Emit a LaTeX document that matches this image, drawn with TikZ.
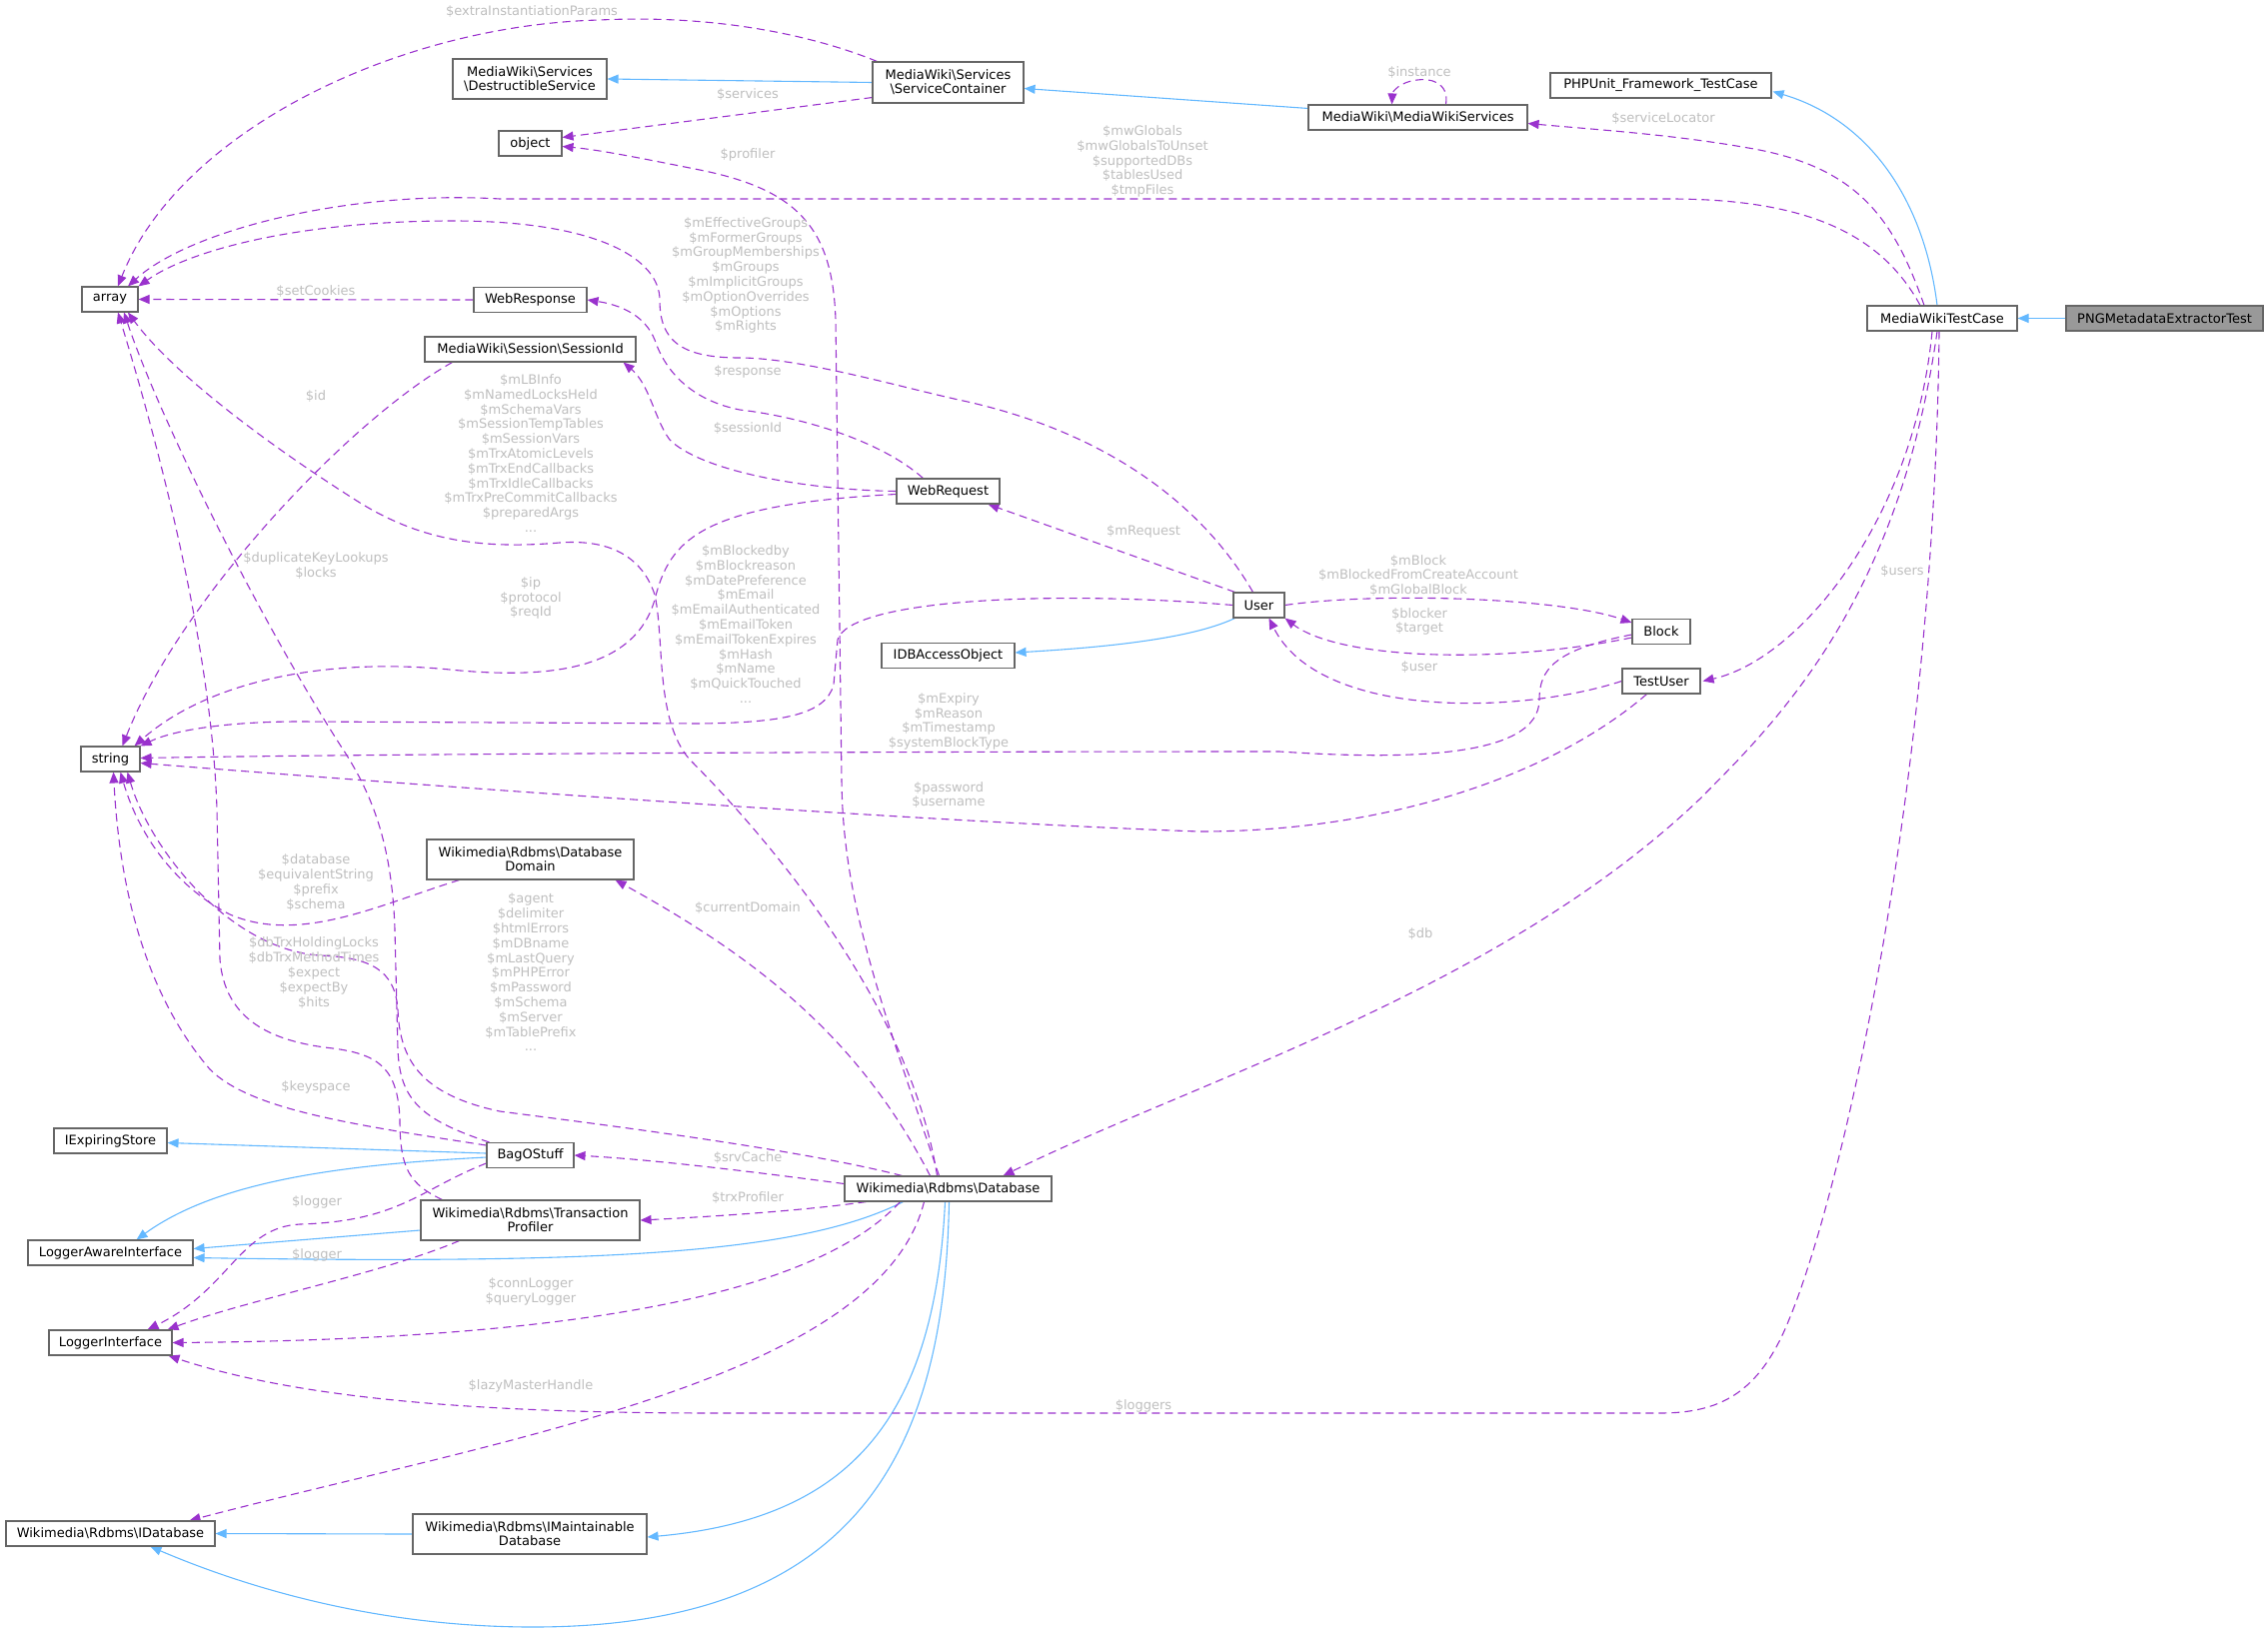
\documentclass[tikz,border=0pt]{standalone}
\usepackage{fontspec}
\setmainfont{DejaVu Sans}
\usetikzlibrary{arrows.meta,calc}
\pgfdeclarelayer{bg}
\pgfsetlayers{bg,main}
\definecolor{edgepurple}{HTML}{9A32CD}
\definecolor{edgeblue}{HTML}{63B8FF}
\definecolor{nodeborder}{HTML}{666666}
\definecolor{lblgray}{HTML}{BEBEBE}
\definecolor{pngfill}{HTML}{999999}
\newcommand{\bsl}{\textbackslash}
\begin{document}
\begin{tikzpicture}[x=1pt,y=-1pt,
  cls/.style={draw=nodeborder, line width=1.1pt, fill=white, inner sep=0pt, minimum height=25pt,
    font=\fontsize{13}{14}\selectfont, align=center, text=black},
  clstwo/.style={cls, minimum height=40pt},
  lbl/.style={font=\fontsize{13}{14.8}\selectfont, text=lblgray, align=center, inner sep=0pt},
  usesty/.style={draw=edgepurple, line width=1.1pt, dash pattern=on 8pt off 5pt, -{Triangle[length=11pt,width=9pt]}},
  inhsty/.style={draw=edgeblue, line width=1.1pt, -{Triangle[length=11pt,width=9pt]}}]
\useasboundingbox (0,0) rectangle (2269,1635);

% ---------- nodes ----------
\node[cls, minimum width=56pt] (array) at (110,299.5) {array};
\node[cls, minimum width=59pt] (string) at (110.5,759.5) {string};
\node[cls, minimum width=63pt] (object) at (530.5,143.5) {object};
\node[clstwo, minimum width=154pt] (DS) at (530,79) {MediaWiki\bsl Services\\\bsl DestructibleService};
\node[clstwo, minimum width=151pt, minimum height=41pt] (SC) at (948.5,82.5) {MediaWiki\bsl Services\\\bsl ServiceContainer};
\node[cls, minimum width=219pt] (MWS) at (1418.5,117.5) {MediaWiki\bsl MediaWikiServices};
\node[cls, minimum width=221pt] (PHPUnit) at (1661.5,85.5) {PHPUnit\_Framework\_TestCase};
\node[cls, minimum width=150pt] (MWTC) at (1943,318.5) {MediaWikiTestCase};
\node[cls, minimum width=197pt, fill=pngfill] (PNG) at (2165.5,318.5) {PNGMetadataExtractorTest};
\node[cls, minimum width=113pt] (WebResponse) at (530.5,300) {WebResponse};
\node[cls, minimum width=211pt] (SessionId) at (530.5,349.5) {MediaWiki\bsl Session\bsl SessionId};
\node[cls, minimum width=103pt] (WebRequest) at (948.5,491.5) {WebRequest};
\node[cls, minimum width=51pt] (User) at (1259.5,605.5) {User};
\node[cls, minimum width=133pt] (IDB) at (948.5,656) {IDBAccessObject};
\node[cls, minimum width=58pt] (Block) at (1662,632) {Block};
\node[cls, minimum width=78pt] (TestUser) at (1662,681.5) {TestUser};
\node[clstwo, minimum width=207pt] (DD) at (530.5,860) {Wikimedia\bsl Rdbms\bsl Database\\Domain};
\node[cls, minimum width=113pt] (IES) at (110.5,1141.5) {IExpiringStore};
\node[cls, minimum width=87pt] (BagOStuff) at (530.5,1156) {BagOStuff};
\node[clstwo, minimum width=219pt] (TP) at (530.5,1221) {Wikimedia\bsl Rdbms\bsl Transaction\\Profiler};
\node[cls, minimum width=165pt] (LAI) at (110.5,1253.5) {LoggerAwareInterface};
\node[cls, minimum width=207pt] (Database) at (948.5,1189.5) {Wikimedia\bsl Rdbms\bsl Database};
\node[cls, minimum width=123pt] (LI) at (110.5,1343.5) {LoggerInterface};
\node[cls, minimum width=209pt] (IDatabase) at (110.5,1534.5) {Wikimedia\bsl Rdbms\bsl IDatabase};
\node[clstwo, minimum width=234pt] (IMD) at (530,1535) {Wikimedia\bsl Rdbms\bsl IMaintainable\\Database};

% ---------- connectors ----------
\begin{pgfonlayer}{bg}
% inheritance
\draw[inhsty] (PNG.west) -- (MWTC.east);
\draw[inhsty] ($(MWTC.north)+(-5,0)$) .. controls (1925,200) and (1870,120) .. ($(PHPUnit.south east)+(1,-7)$);
\draw[inhsty] (SC.west) -- (DS.east);
\draw[inhsty] ($(MWS.north west)+(0,4)$) -- ($(SC.east)+(0,6)$);
\draw[inhsty] ($(User.south west)+(2,0)$) .. controls (1190,640) and (1100,648) .. ($(IDB.east)+(0,-3)$);
\draw[inhsty] ($(BagOStuff.west)+(0,-2)$) -- ($(IES.east)+(0,2)$);
\draw[inhsty] ($(BagOStuff.west)+(0,2)$) .. controls (350,1165) and (220,1180) .. ($(LAI.north)+(26,0)$);
\draw[inhsty] ($(TP.west)+(0,10)$) -- ($(LAI.east)+(0,-4)$);
\draw[inhsty] ($(Database.south west)+(59,0)$) .. controls (800,1255) and (600,1265) .. ($(LAI.east)+(0,5)$);
\draw[inhsty] ($(Database.south)+(-3,0)$) .. controls (935,1420) and (850,1520) .. ($(IMD.east)+(0,3)$);
\draw[inhsty] ($(Database.south)+(1,0)$) .. controls (945,1450) and (860,1628) .. (533,1628) .. controls (380,1628) and (250,1590) .. ($(IDatabase.south)+(40,0)$);
\draw[inhsty] (IMD.west) -- (IDatabase.east);

% usage
\draw[usesty] ($(SC.north west)+(5,0)$) .. controls (800,30) and (700,15) .. (600,20) .. controls (400,25) and (180,130) .. ($(array.north)+(8,0)$);
\draw[usesty] ($(SC.south west)+(0,-6)$) -- ($(object.east)+(0,-6)$);
\draw[usesty] ($(MWS.north)+(28,0)$) .. controls (1450,82) and (1430,78) .. (1418,80) .. controls (1400,82) and (1393,92) .. ($(MWS.north)+(-26,0)$);
\draw[usesty] ($(MWTC.north)+(-18,0)$) .. controls (1895,220) and (1860,170) .. (1760,150) .. controls (1680,135) and (1600,130) .. ($(MWS.east)+(0,6)$);
\draw[usesty] ($(MWTC.north)+(-22,0)$) .. controls (1880,230) and (1800,199) .. (1670,199) -- (500,199) .. controls (350,190) and (190,230) .. ($(array.north)+(18,0)$);
\draw[usesty] ($(User.north)+(-6,0)$) .. controls (1200,500) and (1100,430) .. (959,400) .. controls (900,387) and (800,358) .. (740,358) .. controls (680,358) and (660,340) .. (660,300) .. controls (660,260) and (600,221) .. (453,221) .. controls (300,221) and (190,250) .. (array.north east);
\draw[usesty] (WebResponse.west) -- (array.east);
\draw[usesty] ($(WebRequest.north west)+(27,0)$) .. controls (880,440) and (800,417) .. (740,410) .. controls (690,400) and (665,370) .. (655,340) .. controls (645,315) and (620,305) .. (WebResponse.east);
\draw[usesty] (WebRequest.west) .. controls (800,490) and (700,470) .. (670,440) .. controls (655,420) and (650,385) .. ($(SessionId.south east)+(-13,0)$);
\draw[usesty] ($(WebRequest.west)+(0,3)$) .. controls (700,505) and (670,540) .. (655,600) .. controls (635,670) and (550,680) .. (450,670) .. controls (330,658) and (210,680) .. ($(string.north)+(24,0)$);
\draw[usesty] ($(SessionId.south west)+(28,0)$) .. controls (350,420) and (180,600) .. ($(string.north)+(12,0)$);
\draw[usesty] ($(Database.north)+(-11,0)$) .. controls (910,1000) and (760,830) .. (690,760) .. controls (655,720) and (665,640) .. (655,595) .. controls (640,550) and (600,540) .. (560,543) .. controls (480,550) and (420,540) .. (360,503) .. controls (260,440) and (170,370) .. ($(array.south)+(18,0)$);
\draw[usesty] ($(Database.north)+(-9,0)$) .. controls (880,1000) and (843,900) .. (842,780) -- (836,320) .. controls (833,230) and (800,190) .. (700,170) .. controls (640,158) and (600,150) .. ($(object.east)+(0,3)$);
\draw[usesty] ($(BagOStuff.north west)+(3,0)$) .. controls (420,1120) and (400,1100) .. (398,1050) -- (395,930) .. controls (392,840) and (370,790) .. (340,745) .. controls (260,620) and (160,420) .. ($(array.south)+(14,0)$);
\draw[usesty] ($(TP.north west)+(22,0)$) .. controls (410,1185) and (400,1170) .. (400,1120) .. controls (398,1070) and (380,1055) .. (333,1049) .. controls (270,1042) and (225,1020) .. (220,960) -- (217,810) .. controls (212,650) and (160,450) .. ($(array.south)+(8,0)$);
\draw[usesty] (User.west) .. controls (1050,590) and (850,600) .. (838,640) -- (834,685) .. controls (826,716) and (780,723) .. (700,724) -- (300,722) .. controls (230,722) and (175,730) .. (string.north east);
\draw[usesty] ($(User.north west)+(2,0)$) -- ($(WebRequest.south east)+(-12,0)$);
\draw[usesty] (User.east) .. controls (1380,592) and (1560,598) .. ($(Block.west)+(0,-9)$);
\draw[usesty] ($(Block.west)+(0,6)$) .. controls (1500,665) and (1340,660) .. (User.south east);
\draw[usesty] (TestUser.west) .. controls (1520,715) and (1320,720) .. ($(User.south)+(10,0)$);
\draw[usesty] ($(Block.west)+(0,3)$) .. controls (1555,650) and (1540,670) .. (1540,700) .. controls (1540,760) and (1400,760) .. (1280,752) .. controls (900,752) and (400,754) .. ($(string.east)+(0,-1)$);
\draw[usesty] ($(TestUser.south west)+(25,0)$) .. controls (1560,770) and (1400,832) .. (1200,832) .. controls (1000,825) and (600,800) .. ($(string.east)+(0,4)$);
\draw[usesty] ($(MWTC.south)+(-10,0)$) .. controls (1915,520) and (1800,660) .. ($(TestUser.east)+(2,0)$);
\draw[usesty] ($(MWTC.south)+(-5,0)$) .. controls (1900,600) and (1780,720) .. (1700,800) .. controls (1500,990) and (1200,1080) .. ($(Database.north east)+(-49,0)$);
\draw[usesty] ($(MWTC.south)+(-3,0)$) .. controls (1935,800) and (1840,1200) .. (1790,1320) .. controls (1760,1395) and (1720,1414) .. (1660,1414) -- (720,1414) .. controls (480,1414) and (300,1400) .. ($(LI.south east)+(-4,0)$);
\draw[usesty] ($(DD.south west)+(33,0)$) .. controls (380,905) and (300,945) .. (230,915) .. controls (180,890) and (140,840) .. ($(string.south)+(10,0)$);
\draw[usesty] ($(Database.north)+(-18,0)$) .. controls (860,1040) and (760,960) .. ($(DD.south east)+(-19,0)$);
\draw[usesty] ($(Database.north west)+(58,0)$) .. controls (800,1150) and (600,1125) .. (500,1112) .. controls (420,1095) and (400,1060) .. (398,1010) .. controls (395,970) and (370,958) .. (320,956) .. controls (230,950) and (150,850) .. ($(string.south)+(17,0)$);
\draw[usesty] ($(BagOStuff.west)+(0,-10)$) .. controls (350,1125) and (250,1110) .. (210,1070) .. controls (150,1000) and (120,900) .. ($(string.south)+(3,0)$);
\draw[usesty] ($(Database.west)+(0,-5)$) .. controls (750,1172) and (650,1160) .. (BagOStuff.east);
\draw[usesty] ($(Database.south west)+(22,0)$) .. controls (800,1212) and (700,1218) .. (TP.east);
\draw[usesty] ($(BagOStuff.west)+(0,8)$) .. controls (420,1190) and (400,1222) .. (300,1225) .. controls (240,1228) and (230,1290) .. ($(LI.north east)+(-25,0)$);
\draw[usesty] ($(TP.south west)+(39,0)$) .. controls (380,1275) and (250,1300) .. ($(LI.north east)+(-5,0)$);
\draw[usesty] ($(Database.south)+(-48,0)$) .. controls (820,1290) and (600,1340) .. (LI.east);
\draw[usesty] ($(Database.south)+(-24,0)$) .. controls (880,1380) and (500,1440) .. ($(IDatabase.north east)+(-26,0)$);
\end{pgfonlayer}

% ---------- labels ----------
\node[lbl] (l1) at (532,12) {\$extraInstantiationParams};
\node[lbl] (l2) at (748,95) {\$services};
\node[lbl] (l3) at (748,155) {\$profiler};
\node[lbl] (l4) at (1420,73) {\$instance};
\node[lbl] (l5) at (1664,119) {\$serviceLocator};
\node[lbl] (l6) at (1143,161.5) {\$mwGlobals\\\$mwGlobalsToUnset\\\$supportedDBs\\\$tablesUsed\\\$tmpFiles};
\node[lbl] (l7) at (746,275.5) {\$mEffectiveGroups\\\$mFormerGroups\\\$mGroupMemberships\\\$mGroups\\\$mImplicitGroups\\\$mOptionOverrides\\\$mOptions\\\$mRights};
\node[lbl] (l8) at (316,292) {\$setCookies};
\node[lbl] (l9) at (748,372) {\$response};
\node[lbl] (l10) at (316,397) {\$id};
\node[lbl] (l11) at (531,453.5) {\$mLBInfo\\\$mNamedLocksHeld\\\$mSchemaVars\\\$mSessionTempTables\\\$mSessionVars\\\$mTrxAtomicLevels\\\$mTrxEndCallbacks\\\$mTrxIdleCallbacks\\\$mTrxPreCommitCallbacks\\\$preparedArgs\\...};
\node[lbl] (l12) at (748,429) {\$sessionId};
\node[lbl] (l13) at (316,566) {\$duplicateKeyLookups\\\$locks};
\node[lbl] (l14) at (531,598.5) {\$ip\\\$protocol\\\$reqId};
\node[lbl] (l15) at (746,624.5) {\$mBlockedby\\\$mBlockreason\\\$mDatePreference\\\$mEmail\\\$mEmailAuthenticated\\\$mEmailToken\\\$mEmailTokenExpires\\\$mHash\\\$mName\\\$mQuickTouched\\...};
\node[lbl] (l16) at (1144,532) {\$mRequest};
\node[lbl] (l17) at (1419,576) {\$mBlock\\\$mBlockedFromCreateAccount\\\$mGlobalBlock};
\node[lbl] (l18) at (1420,622) {\$blocker\\\$target};
\node[lbl] (l19) at (1420,668) {\$user};
\node[lbl] (l20) at (949,722) {\$mExpiry\\\$mReason\\\$mTimestamp\\\$systemBlockType};
\node[lbl] (l21) at (949,795.5) {\$password\\\$username};
\node[lbl] (l22) at (1903,572) {\$users};
\node[lbl] (l23) at (1421,935) {\$db};
\node[lbl] (l24) at (1144,1407) {\$loggers};
\node[lbl] (l25) at (316,883) {\$database\\\$equivalentString\\\$prefix\\\$schema};
\node[lbl] (l26) at (748,909) {\$currentDomain};
\node[lbl] (l27) at (531,973) {\$agent\\\$delimiter\\\$htmlErrors\\\$mDBname\\\$mLastQuery\\\$mPHPError\\\$mPassword\\\$mSchema\\\$mServer\\\$mTablePrefix\\...};
\node[lbl] (l28) at (314,973.5) {\$dbTrxHoldingLocks\\\$dbTrxMethodTimes\\\$expect\\\$expectBy\\\$hits};
\node[lbl] (l29) at (316,1088) {\$keyspace};
\node[lbl] (l30) at (748,1159) {\$srvCache};
\node[lbl] (l31) at (748,1199) {\$trxProfiler};
\node[lbl] (l32) at (317,1203) {\$logger};
\node[lbl] (l33) at (317,1256) {\$logger};
\node[lbl] (l34) at (531,1292.5) {\$connLogger\\\$queryLogger};
\node[lbl] (l35) at (531,1387) {\$lazyMasterHandle};
\end{tikzpicture}
\end{document}
